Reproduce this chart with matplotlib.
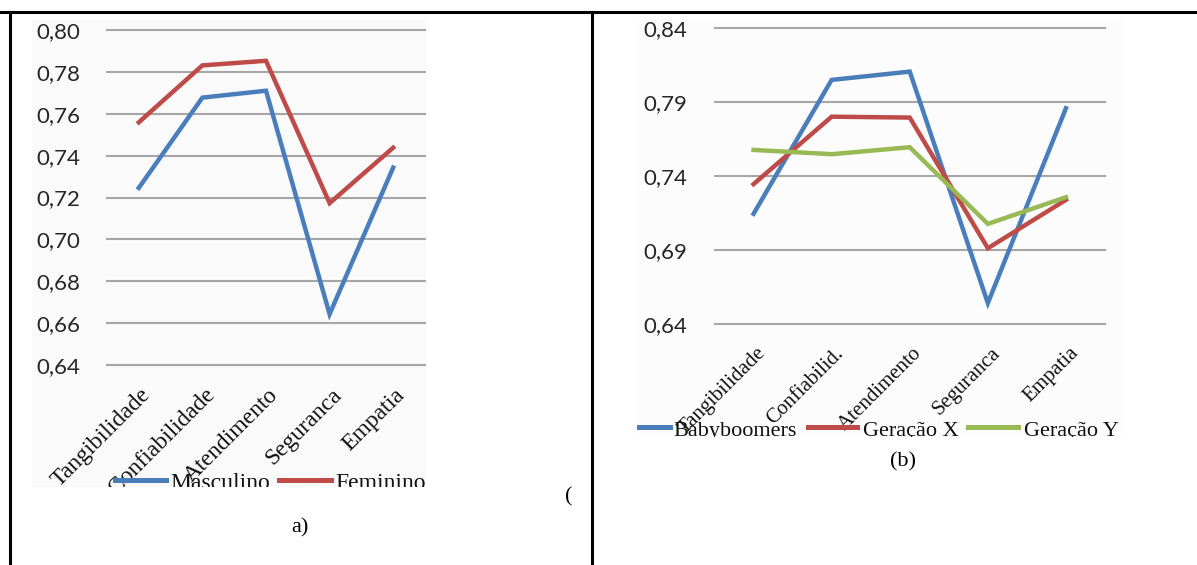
import matplotlib
matplotlib.use("Agg")
import matplotlib.pyplot as plt
from matplotlib.patches import Rectangle
from matplotlib.lines import Line2D
from matplotlib.transforms import Bbox, TransformedBbox
import numpy as np

# ---- data ----
cats_a = ["Tangibilidade", "Confiabilidade", "Atendimento", "Seguranca", "Empatia"]
masculino = [0.7246, 0.7677, 0.7710, 0.6643, 0.7343]
feminino = [0.7559, 0.7831, 0.7853, 0.7173, 0.7438]
yticks_a = [0.64, 0.66, 0.68, 0.70, 0.72, 0.74, 0.76, 0.78, 0.80]

cats_b = ["Tangibilidade", "Confiabilid.", "Atendimento", "Seguranca", "Empatia"]
babyboomers = [0.7145, 0.8048, 0.8104, 0.6543, 0.7857]
geracao_x = [0.7345, 0.7800, 0.7794, 0.6913, 0.7239]
geracao_y = [0.7576, 0.7547, 0.7594, 0.7077, 0.7257]
yticks_b = [0.64, 0.69, 0.74, 0.79, 0.84]

BLUE = "#4A7EBB"
RED = "#BE4B48"
GREEN = "#98B954"
GRID = "#A6A6A6"

W, H = 1197, 565
fig = plt.figure(figsize=(W / 100, H / 100), dpi=100)


def fx(px):
    return px / W


def fy(py):
    return 1 - py / H


# table borders
fig.add_artist(Line2D([0, 1], [fy(12), fy(12)], transform=fig.transFigure, color="black", lw=2.2))
fig.add_artist(Line2D([fx(9.5), fx(9.5)], [fy(12), 0], transform=fig.transFigure, color="black", lw=2.2))
fig.add_artist(Line2D([fx(592), fx(592)], [fy(12), 0], transform=fig.transFigure, color="black", lw=2.2))

# chart backgrounds
fig.add_artist(Rectangle((fx(32), fy(487)), fx(426) - fx(32), fy(20) - fy(487),
                         transform=fig.transFigure, facecolor="#FAFAFA", edgecolor="none", zorder=0))
fig.add_artist(Rectangle((fx(639), fy(437)), fx(1125) - fx(639), fy(18) - fy(437),
                         transform=fig.transFigure, facecolor="#FCFCFC", edgecolor="none", zorder=0))


def setup(ax, cats, yticks, ylim, ylab_size, pad):
    ax.set_facecolor("none")
    for s in ax.spines.values():
        s.set_visible(False)
    ax.set_xlim(-0.5, len(cats) - 0.5)
    ax.set_ylim(*ylim)
    ax.set_yticks(yticks)
    ax.set_yticklabels([f"{v:.2f}".replace(".", ",") for v in yticks],
                       fontfamily="Lato", fontsize=ylab_size, color="#262626")
    ax.tick_params(axis="y", length=0, pad=pad)
    ax.tick_params(axis="x", length=0)
    ax.set_xticks(range(len(cats)))
    ax.set_xticklabels([])
    ax.yaxis.grid(True, color=GRID, lw=1.5)
    ax.set_axisbelow(True)
    for gl in ax.get_ygridlines():
        gl.set_clip_on(False)


def clip_text(t, y_px):
    bb = TransformedBbox(Bbox([[0, fy(y_px)], [1, 1]]), fig.transFigure)
    t.set_clip_box(bb)
    t.set_clip_on(True)


# ---- chart a ----
axA = fig.add_axes([fx(107), fy(365), fx(425) - fx(107), fy(30) - fy(365)])
setup(axA, cats_a, yticks_a, (0.64, 0.80), 16, 19.5)
x = np.arange(len(cats_a))
axA.plot(x, masculino, color=BLUE, lw=3.2, solid_joinstyle="miter")
axA.plot(x, feminino, color=RED, lw=3.2, solid_joinstyle="miter")
for i, c in enumerate(cats_a):
    t = axA.annotate(c, xy=(i, 0.64), xycoords="data", xytext=(1, -14), textcoords="offset points",
                     rotation=45, ha="right", va="top", rotation_mode="anchor",
                     fontfamily="Liberation Serif", fontsize=17, color="#111111", annotation_clip=False)
    clip_text(t, 487)

leg_a = [("Masculino", BLUE, 115, 166, 170), ("Feminino", RED, 279, 331, 335)]
for name, col, x0, x1, tx in leg_a:
    fig.add_artist(Line2D([fx(x0), fx(x1)], [fy(480), fy(480)], transform=fig.transFigure,
                          color=col, lw=3.6, zorder=5))
    t = fig.text(fx(tx), fy(489), name, fontfamily="Liberation Serif", fontsize=17,
                 ha="left", va="baseline", color="#111111", zorder=5)
    clip_text(t, 487)

fig.text(fx(300), fy(528), "a)", fontfamily="Liberation Serif", fontsize=16, ha="center", va="center")
fig.text(fx(569), fy(497), "(", fontfamily="Liberation Serif", fontsize=16, ha="center", va="center")

# ---- chart b ----
axB = fig.add_axes([fx(714.5), fy(324.3), fx(1105) - fx(714.5), fy(27.7) - fy(324.3)])
setup(axB, cats_b, yticks_b, (0.64, 0.84), 16, 19.5)
xb = np.arange(len(cats_b))
axB.plot(xb, babyboomers, color=BLUE, lw=3.2, solid_joinstyle="miter")
axB.plot(xb, geracao_x, color=RED, lw=3.2, solid_joinstyle="miter")
axB.plot(xb, geracao_y, color=GREEN, lw=3.2, solid_joinstyle="miter")
for i, c in enumerate(cats_b):
    t = axB.annotate(c, xy=(i, 0.64), xycoords="data", xytext=(2, -14), textcoords="offset points",
                     rotation=45, ha="right", va="top", rotation_mode="anchor",
                     fontfamily="Liberation Serif", fontsize=15, color="#111111", annotation_clip=False)
    clip_text(t, 437)

leg_b = [("Babyboomers", BLUE, 639, 670, 673), ("Geração X", RED, 808, 857, 863),
         ("Geração Y", GREEN, 968, 1018, 1024)]
for name, col, x0, x1, tx in leg_b:
    fig.add_artist(Line2D([fx(x0), fx(x1)], [fy(427), fy(427)], transform=fig.transFigure,
                          color=col, lw=3.6, zorder=5))
    t = fig.text(fx(tx), fy(436), name, fontfamily="Liberation Serif", fontsize=16,
                 ha="left", va="baseline", color="#111111", zorder=5)
    clip_text(t, 437)

fig.text(fx(903), fy(462), "(b)", fontfamily="Liberation Serif", fontsize=16, ha="center", va="center")

fig.savefig("out.png", dpi=100)
